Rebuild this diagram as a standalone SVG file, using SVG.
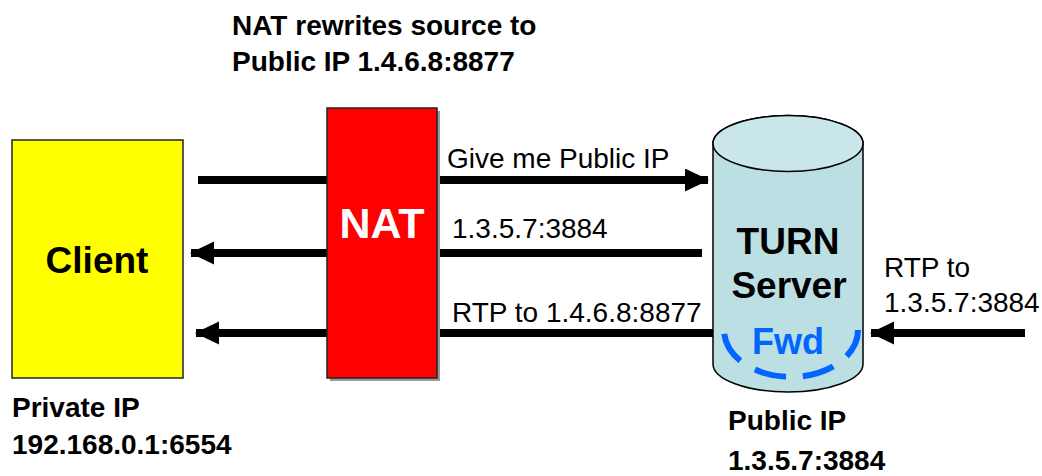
<svg xmlns="http://www.w3.org/2000/svg" width="1042" height="476" viewBox="0 0 1042 476">
<style>
text{font-family:"Liberation Sans",Arial,sans-serif;fill:#000}
.b{font-weight:bold;font-size:28px}
.r{font-size:28px}
.big{font-weight:bold;font-size:37px;text-anchor:middle}
.conn{stroke:#000;stroke-width:8;fill:none}
</style>
<defs>
<marker id="ah" markerUnits="userSpaceOnUse" markerWidth="24" markerHeight="24" refX="23" refY="11.5" orient="auto">
<path d="M0,0 L24,11.5 L0,23 Z" fill="#000"/>
</marker>
</defs>
<rect width="1042" height="476" fill="#fff"/>
<g id="title">
<text class="b" x="232" y="35">NAT rewrites source to</text>
<text class="b" x="232" y="71">Public IP 1.4.6.8:8877</text>
</g>
<g id="connectors">
<line class="conn" x1="198" y1="180" x2="708" y2="180" marker-end="url(#ah)"/>
<line class="conn" x1="702" y1="253" x2="191" y2="253" marker-end="url(#ah)"/>
<line class="conn" x1="713" y1="333" x2="196" y2="333" marker-end="url(#ah)"/>
<line class="conn" x1="1025" y1="333" x2="871" y2="333" marker-end="url(#ah)"/>
<text class="r" x="447" y="168">Give me Public IP</text>
<text class="r" x="452" y="238">1.3.5.7:3884</text>
<text class="r" x="452" y="322">RTP to 1.4.6.8:8877</text>
<text class="r" x="884" y="277">RTP to</text>
<text class="r" x="884" y="312">1.3.5.7:3884</text>
</g>
<g id="client">
<rect x="12" y="140" width="171" height="238" fill="#ffff00" stroke="#222" stroke-width="1.5"/>
<text class="big" x="97" y="273">Client</text>
<text class="b" x="12" y="417">Private IP</text>
<text class="b" x="12" y="454">192.168.0.1:6554</text>
</g>
<g id="nat">
<rect x="330" y="111" width="110" height="270" fill="#999"/>
<rect x="327" y="108" width="110" height="270" fill="#ff0000" stroke="#222" stroke-width="1.5"/>
<text x="382" y="238" style="font-weight:bold;font-size:43px;text-anchor:middle;fill:#fff">NAT</text>
</g>
<g id="turn">
<path d="M713,143.5 L713,364 A75,28 0 0 0 863,364 L863,143.5 A75,28 0 0 0 713,143.5 Z" fill="#bcdfe3" stroke="#000" stroke-width="1.5"/>
<ellipse cx="788" cy="143.5" rx="75" ry="28" fill="#c9e7ea" stroke="#000" stroke-width="1.5"/>
<text class="big" x="788" y="254">TURN</text>
<text class="big" x="789" y="298">Server</text>
<text x="788" y="354" style="font-weight:bold;font-size:36px;text-anchor:middle;fill:#0066ff">Fwd</text>
<path d="M724,330 A67,47 0 0 0 858,330" fill="none" stroke="#0066ff" stroke-width="6" stroke-dasharray="32 17" stroke-dashoffset="-4"/>
<text class="b" x="728" y="430">Public IP</text>
<text class="b" x="728" y="470">1.3.5.7:3884</text>
</g>
</svg>
